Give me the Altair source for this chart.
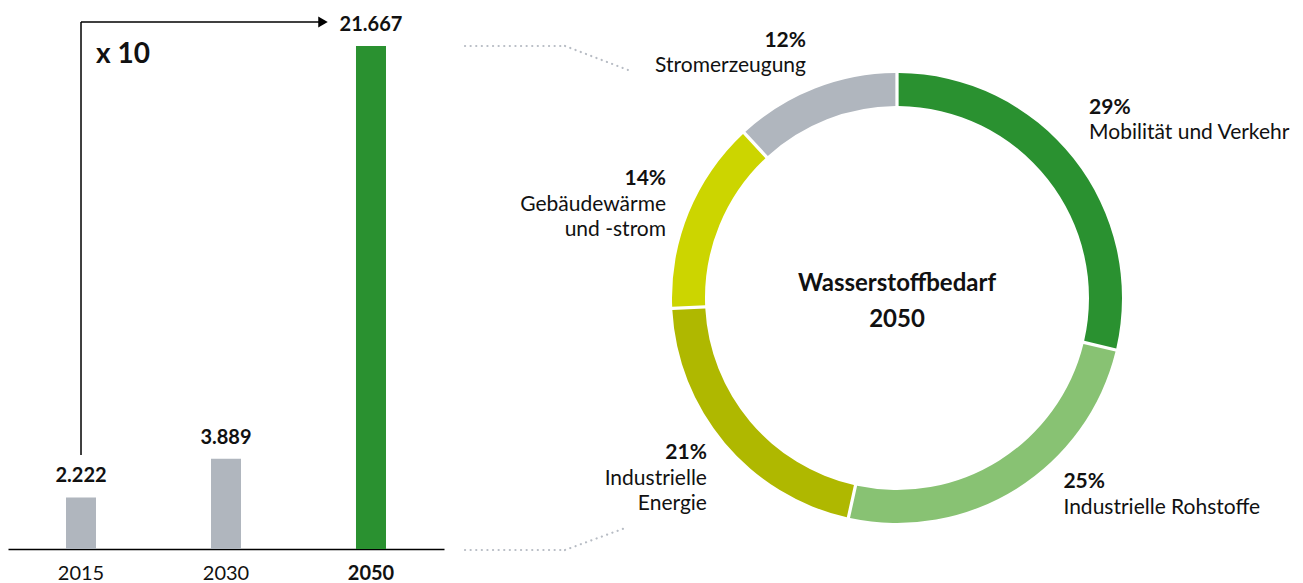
import altair as alt
import pandas as pd

# ---------------- data ----------------
years = ["2015", "2030", "2050"]
demand = [2.222, 3.889, 21.667]

sectors = ["Mobilität und Verkehr", "Industrielle Rohstoffe", "Industrielle Energie",
           "Gebäudewärme und -strom", "Stromerzeugung"]
shares = [29, 25, 21, 14, 12]
sector_text = ["Mobilität und Verkehr", "Industrielle Rohstoffe", "Industrielle\nEnergie",
               "Gebäudewärme\nund -strom", "Stromerzeugung"]

center_title = "Wasserstoffbedarf\n2050"
growth_label = "x 10"

# ---------------- styles / layout ----------------
FONT = "Lato"
TXT = "#111111"
bar_colors = ["#B0B6BE", "#B0B6BE", "#2A9130"]
sector_colors = ["#2A9130", "#88C273", "#AFB800", "#CCD500", "#B0B6BE"]
DOT = "#B7BCC4"

W, H = 1287, 541
CX, CY = 889, 290
R_OUT, R_IN = 225, 192
R_LAB = 255
total = sum(shares)

bars_df = pd.DataFrame({"year": years, "value": demand})
donut_df = pd.DataFrame({
    "sector": sectors,
    "share": shares,
    "idx": list(range(len(sectors))),
    "name": sector_text,
})
donut_df["pct_label"] = donut_df["share"].astype(str) + "%"
one = pd.DataFrame({"k": [0]})

x_enc = alt.X(
    "year:N", sort=years,
    scale=alt.Scale(range=[0, 436], paddingInner=0.793, paddingOuter=0.4),
    axis=alt.Axis(title=None, domainColor="#000000", domainWidth=1.5, ticks=False,
                  labelFont=FONT, labelFontSize=20, labelColor=TXT, labelPadding=14,
                  labelAngle=0,
                  labelFontWeight={"expr": "datum.value == '2050' ? 'bold' : 'normal'"}),
)
y_enc = alt.Y("value:Q", scale=alt.Scale(domain=[0, 23.3], nice=False, zero=True), axis=None)

bars = alt.Chart(bars_df).mark_bar(size=30).encode(
    x=x_enc, y=y_enc,
    color=alt.Color("year:N", scale=alt.Scale(domain=years, range=bar_colors), legend=None),
)
bar_labels = alt.Chart(bars_df).mark_text(
    baseline="alphabetic", dy=-15, font=FONT, fontSize=20, fontWeight="bold", color=TXT
).encode(x=x_enc, y=y_enc, text=alt.Text("value:Q", format=".3f"))

# growth arrow
arrow_v = alt.Chart(one).mark_rule(color="#000000", strokeWidth=1.5).encode(
    x=alt.datum("2015"), y=alt.value(447), y2=alt.value(14))
arrow_h = alt.Chart(one).mark_rule(color="#000000", strokeWidth=1.5).encode(
    x=alt.datum("2015"), x2=alt.value(312), y=alt.value(14))
arrow_head = alt.Chart(one).mark_point(shape="triangle-right", filled=True, size=120,
                                       color="#000000", opacity=1).encode(
    x=alt.value(315), y=alt.value(14))
growth = alt.Chart(one).mark_text(align="left", baseline="alphabetic", font=FONT,
                                  fontSize=28, fontWeight="bold", color=TXT).encode(
    x=alt.value(88), y=alt.value(55), text=alt.value(growth_label))

# dotted connectors
def dotted(x1, y1, x2, y2):
    return alt.Chart(one).mark_rule(color=DOT, strokeWidth=2.2, strokeDash=[0.1, 5.5],
                                    strokeCap="round").encode(
        x=alt.value(x1), y=alt.value(y1), x2=alt.value(x2), y2=alt.value(y2))

connectors = [dotted(457, 38, 557, 38), dotted(557, 38, 620, 62),
              dotted(457, 542, 557, 542), dotted(557, 542, 620, 519)]

# donut
theta_scale = alt.Scale(domain=[0, total])
arc = alt.Chart(donut_df).mark_arc(radius=R_OUT, radius2=R_IN, padAngle=0.011).encode(
    theta=alt.Theta("share:Q", stack=True, scale=theta_scale),
    order=alt.Order("idx:Q"),
    color=alt.Color("sector:N", scale=alt.Scale(domain=sectors, range=sector_colors), legend=None),
    x=alt.value(CX), y=alt.value(CY),
)

def sector_label(i, align, dx, dy):
    base = (alt.Chart(donut_df)
            .transform_window(cum="sum(share)", sort=[alt.SortField("idx")], frame=[None, 0])
            .transform_calculate(mid="datum.cum - datum.share / 2")
            .transform_filter(alt.datum.idx == i))
    enc = dict(theta=alt.Theta("mid:Q", stack=None, scale=theta_scale),
               x=alt.value(CX), y=alt.value(CY))
    pct = base.mark_text(radius=R_LAB, align=align, baseline="alphabetic", dx=dx, dy=dy,
                         font=FONT, fontSize=21, fontWeight="bold", color=TXT).encode(
        text="pct_label:N", **enc)
    name = base.mark_text(radius=R_LAB, align=align, baseline="alphabetic", dx=dx, dy=dy + 25.5,
                          lineBreak="\n", lineHeight=25.5, font=FONT, fontSize=21,
                          color=TXT).encode(text="name:N", **enc)
    return [pct, name]

labels = []
labels += sector_label(0, "left", -8, -26)
labels += sector_label(1, "left", 31, -26)
labels += sector_label(2, "right", 5, -3)
labels += sector_label(3, "right", 5, -16)
labels += sector_label(4, "right", 2, -14)

center = alt.Chart(one).mark_text(align="center", baseline="alphabetic", dy=0,
                                  lineBreak="\n", lineHeight=36, font=FONT, fontSize=24,
                                  fontWeight="bold", color=TXT).encode(
    x=alt.value(CX), y=alt.value(283), text=alt.value(center_title))

chart = alt.layer(
    bars, bar_labels, arrow_v, arrow_h, arrow_head, growth, *connectors, arc, *labels, center
).resolve_scale(color="independent").properties(
    width=W, height=H,
    autosize=alt.AutoSizeParams(type="none"),
    padding={"left": 0, "right": 0, "top": 0, "bottom": 34},
).configure_view(stroke=None)

chart.save("out.html", embed_options={"renderer": "svg", "actions": False})
